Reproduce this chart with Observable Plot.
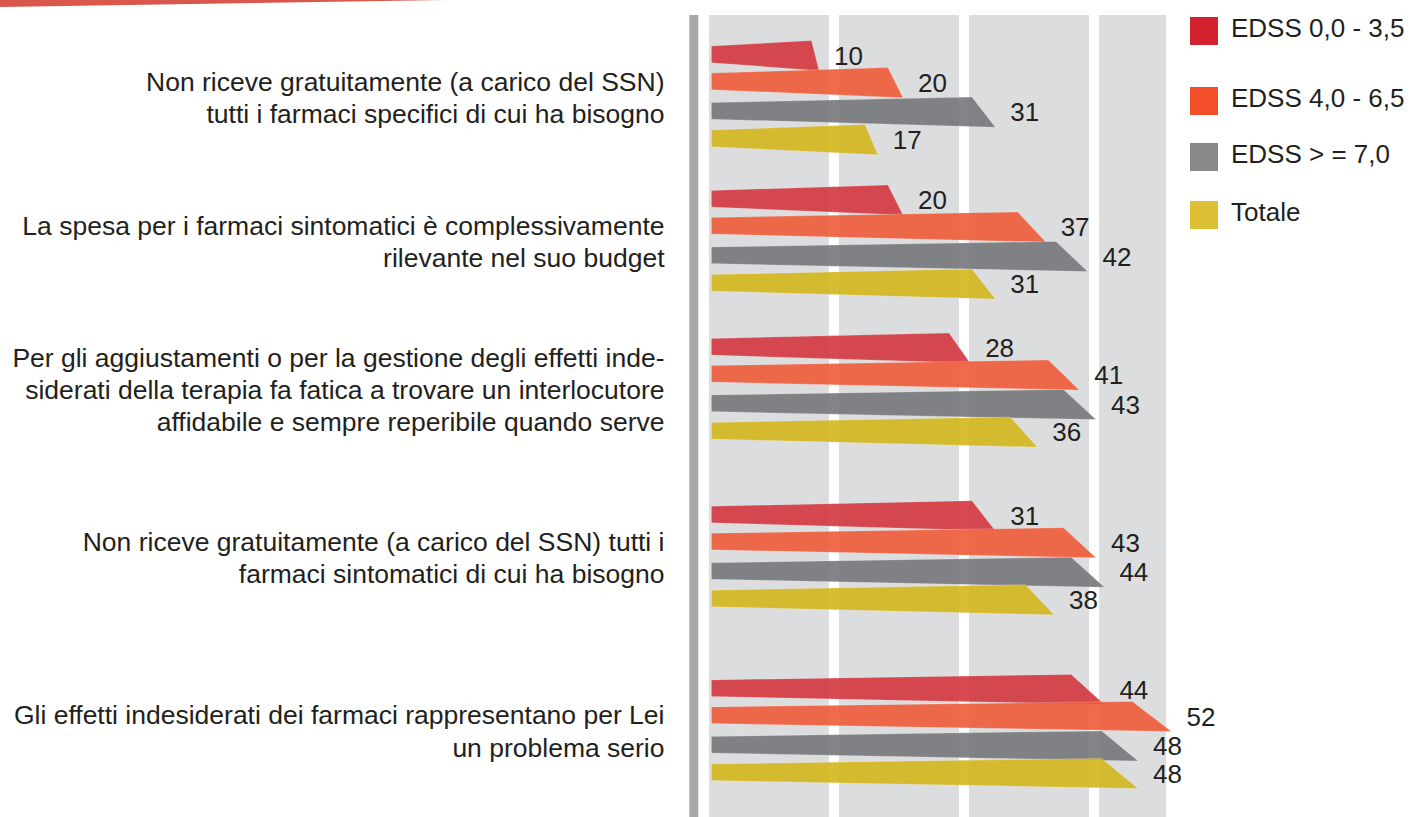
<!DOCTYPE html>
<html>
<head>
<meta charset="utf-8">
<script src="https://cdn.jsdelivr.net/npm/d3@7"></script>
<script src="https://cdn.jsdelivr.net/npm/@observablehq/plot@0.6"></script>
<style>
  html, body { margin: 0; padding: 0; background: #ffffff; }
  #wrap { position: relative; width: 1410px; height: 817px; overflow: hidden; font-family: "Liberation Sans", Arial, Helvetica, sans-serif; color: #231f20; }
  #deco { position: absolute; left: 0; top: 0; width: 445px; height: 7px; background: #d9574c; clip-path: polygon(0 0, 100% 0, 0 100%); }
  .lg { position: absolute; left: 1190px; height: 28px; display: flex; align-items: flex-start; white-space: nowrap; }
  .lg .sw { width: 28px; height: 28px; flex: none; }
  .lg .tx { margin-left: 13px; font-size: 26px; line-height: 28px; transform: translateY(-3px); }
</style>
</head>
<body>
<div id="wrap">
  <div id="chart"></div>
  <div id="deco"></div>
  <div id="legend"></div>
</div>
<script>
// ---------- data ----------
const categories = [
  "Non riceve gratuitamente (a carico del SSN)\ntutti i farmaci specifici di cui ha bisogno",
  "La spesa per i farmaci sintomatici è complessivamente\nrilevante nel suo budget",
  "Per gli aggiustamenti o per la gestione degli effetti inde-\nsiderati della terapia fa fatica a trovare un interlocutore\naffidabile e sempre reperibile quando serve",
  "Non riceve gratuitamente (a carico del SSN) tutti i\nfarmaci sintomatici di cui ha bisogno",
  "Gli effetti indesiderati dei farmaci rappresentano per Lei\nun problema serio"
];
const seriesNames = ["EDSS 0,0 - 3,5", "EDSS 4,0 - 6,5", "EDSS > = 7,0", "Totale"];
const edss00_35 = [10, 20, 28, 31, 44];
const edss40_65 = [20, 37, 41, 43, 52];
const edss70 = [31, 42, 43, 44, 48];
const totale = [17, 31, 36, 38, 48];
const seriesValues = [edss00_35, edss40_65, edss70, totale];

// ---------- styles / layout ----------
const barColors = ["#d3363f", "#ee5b39", "#76777a", "#d3b61c"];
const legendColors = ["#d3222d", "#f24e2a", "#87888a", "#dcbf35"];
const legendTops = [17, 87, 143, 201];
const groupTop = [53.9, 198.3, 346.3, 514, 687.7];   // centre of first bar of each group (px)
const seriesDy = [0, 27, 56.5, 84];
const xDomain = [-2.82, 51.4];
const halfH = 8.3, rise = 5.5, drop = 8, slant = 0.09;
const gridStart = -3.07, gridStep = 15.5, gridWidth = 14.3;

// ---------- derived tables ----------
const rows = [];
categories.forEach((c, g) => {
  seriesNames.forEach((s, k) => {
    rows.push({id: g + "-" + k, cat: c, series: s, k, value: seriesValues[k][g], yc: groupTop[g] + seriesDy[k]});
  });
});
const verts = rows.flatMap(r => [
  {id: r.id, k: r.k, x: xDomain[0], y: r.yc - halfH},
  {id: r.id, k: r.k, x: r.value * (1 - slant), y: r.yc - halfH - rise},
  {id: r.id, k: r.k, x: r.value, y: r.yc + halfH + drop},
  {id: r.id, k: r.k, x: xDomain[0], y: r.yc + halfH}
]);
const groups = categories.map((c, g) => ({label: c, yc: groupTop[g] + (seriesDy[0] + seriesDy[3]) / 2}));
const bands = d3.range(4).map(i => ({x1: gridStart + i * gridStep, x2: Math.min(gridStart + i * gridStep + gridWidth, xDomain[1])}));

const chart = Plot.plot({
  width: 1410,
  height: 817,
  marginLeft: 711,
  marginRight: 244,
  marginTop: 15,
  marginBottom: 0,
  style: {fontFamily: "'Liberation Sans', Arial, Helvetica, sans-serif", background: "#ffffff", color: "#231f20"},
  x: {domain: xDomain, axis: null},
  y: {domain: [15, 817], range: [15, 817], axis: null},
  marks: [
    Plot.rect(bands, {x1: "x1", x2: "x2", fill: "#dcdddf", clip: false}),
    Plot.ruleX([xDomain[0]], {dx: -17.7, stroke: "#a7a8ab", strokeWidth: 9}),
    ...seriesNames.map((s, k) => Plot.line(verts.filter(v => v.k === k), {
      x: "x", y: "y", z: "id", curve: "linear-closed",
      fill: barColors[k], fillOpacity: 0.9, stroke: "#ffffff", strokeOpacity: 0.25, strokeWidth: 0.8
    })),
    Plot.text(rows, {x: "value", y: d => d.yc + 2, text: d => String(d.value), textAnchor: "start", dx: 15, fontSize: 26, fill: "#231f20"}),
    Plot.text(groups, {y: "yc", text: "label", frameAnchor: "left", textAnchor: "end", dx: -47, lineHeight: 1.22, fontSize: 26.5, fill: "#231f20"})
  ]
});
document.getElementById("chart").appendChild(chart);

// legend
const lg = document.getElementById("legend");
seriesNames.forEach((s, k) => {
  const item = document.createElement("div");
  item.className = "lg";
  item.style.top = legendTops[k] + "px";
  item.innerHTML = `<div class="sw" style="background:${legendColors[k]}"></div><div class="tx"></div>`;
  item.querySelector(".tx").textContent = s;
  lg.appendChild(item);
});
</script>
</body>
</html>
